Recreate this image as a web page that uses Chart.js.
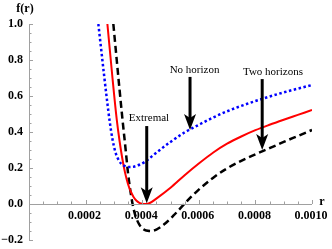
<!DOCTYPE html>
<html>
<head>
<meta charset="utf-8">
<script src="https://cdn.jsdelivr.net/npm/chart.js@4.4.1/dist/chart.umd.min.js"></script>
<style>
  html, body { margin: 0; padding: 0; background: #fff; }
  #wrap { width: 332px; height: 249px; position: relative; }
</style>
</head>
<body>
<div id="wrap"><canvas id="grafico"></canvas></div>
<script>
// Curvas (r, f(r))
const rSinHorizonte = [0.000245, 0.000255, 0.000265, 0.000275, 0.000285, 0.000295, 0.000305, 0.000315, 0.000325, 0.00034, 0.000355, 0.00037, 0.00039, 0.00041, 0.00045, 0.0005, 0.00055, 0.0006, 0.00065, 0.0007, 0.00075, 0.0008, 0.00085, 0.0009, 0.00095, 0.001];
const fSinHorizonte = [1.0, 0.86, 0.72, 0.585, 0.46, 0.36, 0.29, 0.25, 0.225, 0.21, 0.205, 0.207, 0.218, 0.235, 0.285, 0.345, 0.398, 0.44, 0.48, 0.515, 0.545, 0.572, 0.597, 0.62, 0.641, 0.661];

const rExtremal = [0.000277, 0.000295, 0.00031, 0.00032, 0.00033, 0.00034, 0.00035, 0.00036, 0.00037, 0.00038, 0.00039, 0.0004, 0.000412, 0.000425, 0.00045, 0.0005, 0.00055, 0.0006, 0.00065, 0.0007, 0.00075, 0.0008, 0.00085, 0.0009, 0.00095, 0.001];
const fExtremal = [1.0, 0.70, 0.47, 0.35, 0.25, 0.17, 0.11, 0.068, 0.038, 0.018, 0.006, 0.001, 0.0, 0.004, 0.03, 0.09, 0.16, 0.225, 0.285, 0.335, 0.375, 0.41, 0.44, 0.468, 0.495, 0.522];

const rDosHorizontes = [0.000298, 0.00031, 0.00032, 0.00033, 0.00034, 0.00035, 0.00036, 0.00037, 0.00038, 0.00039, 0.0004, 0.00041, 0.00042, 0.00043, 0.00045, 0.00048, 0.00051, 0.00054, 0.00057, 0.0006, 0.00065, 0.0007, 0.00075, 0.0008, 0.00085, 0.0009, 0.00095, 0.001];
const fDosHorizontes = [1.0, 0.80, 0.635, 0.475, 0.325, 0.17, 0.055, -0.03, -0.082, -0.115, -0.135, -0.145, -0.149, -0.15, -0.142, -0.11, -0.065, -0.015, 0.035, 0.08, 0.145, 0.198, 0.24, 0.276, 0.31, 0.345, 0.378, 0.411];

// Marcas de los ejes
const ticksX = [0.0002, 0.0004, 0.0006, 0.0008, 0.001];
const etiquetasX = ["0.0002", "0.0004", "0.0006", "0.0008", "0.0010"];
const ticksY = [-0.2, 0.0, 0.2, 0.4, 0.6, 0.8, 1.0];
const etiquetasY = ["\u22120.2", "0.0", "0.2", "0.4", "0.6", "0.8", "1.0"];

// Flechas y textos (en unidades de datos)
const flechas = [
  { texto: "Extremal", r: 0.000416, desde: 0.433, hasta: 0.004, tr: 0.000424, tf: 0.478 },
  { texto: "No horizon", r: 0.000569, desde: 0.706, hasta: 0.411, tr: 0.000585, tf: 0.744 },
  { texto: "Two horizons", r: 0.000824, desde: 0.694, hasta: 0.30, tr: 0.000862, tf: 0.733 }
];

const puntos = (xs, ys) => xs.map((x, i) => ({ x: x, y: ys[i] }));

const ejesPlugin = {
  id: 'ejes',
  afterDatasetsDraw(chart) {
    const ctx = chart.ctx;
    const sx = chart.scales.x, sy = chart.scales.y;
    const x0 = sx.getPixelForValue(0), y0 = sy.getPixelForValue(0);
    ctx.save();
    ctx.strokeStyle = '#a0a0a0';
    ctx.lineWidth = 1;
    // eje x
    ctx.beginPath();
    ctx.moveTo(x0, y0 + 0.5); ctx.lineTo(sx.getPixelForValue(0.001), y0 + 0.5);
    ctx.stroke();
    // eje y
    ctx.beginPath();
    ctx.moveTo(x0 + 0.5, sy.getPixelForValue(1.0)); ctx.lineTo(x0 + 0.5, sy.getPixelForValue(-0.2));
    ctx.stroke();
    // marcas menores y mayores
    for (let i = 1; i <= 20; i++) {
      const px = Math.round(sx.getPixelForValue(i * 0.00005)) + 0.5;
      const largo = i % 4 === 0 ? 4 : 2.5;
      ctx.beginPath(); ctx.moveTo(px, y0); ctx.lineTo(px, y0 - largo); ctx.stroke();
    }
    for (let i = -4; i <= 20; i++) {
      if (i === 0) continue;
      const py = Math.round(sy.getPixelForValue(i * 0.05)) + 0.5;
      const largo = i % 4 === 0 ? 4 : 2.5;
      ctx.beginPath(); ctx.moveTo(x0, py); ctx.lineTo(x0 + largo, py); ctx.stroke();
    }
    // etiquetas
    ctx.fillStyle = '#000';
    ctx.font = 'bold 12px "Liberation Serif", serif';
    ctx.textAlign = 'center'; ctx.textBaseline = 'top';
    ticksX.forEach((v, i) => ctx.fillText(etiquetasX[i], sx.getPixelForValue(v) - 1, y0 + 6));
    ctx.textAlign = 'right'; ctx.textBaseline = 'middle';
    ticksY.forEach((v, i) => ctx.fillText(etiquetasY[i], x0 - 6, sy.getPixelForValue(v)));
    ctx.textAlign = 'center'; ctx.textBaseline = 'middle';
    ctx.fillText('f(r)', 25, 9);
    ctx.fillText('r', sx.getPixelForValue(0.001) + 10, y0 - 2);
    // flechas
    ctx.font = '11px "Liberation Serif", serif';
    flechas.forEach(f => {
      const px = sx.getPixelForValue(f.r);
      const pa = sy.getPixelForValue(f.desde), pb = sy.getPixelForValue(f.hasta);
      ctx.strokeStyle = '#000'; ctx.lineWidth = 3;
      ctx.beginPath(); ctx.moveTo(px, pa); ctx.lineTo(px, pb - 10); ctx.stroke();
      ctx.fillStyle = '#000';
      ctx.beginPath();
      ctx.moveTo(px, pb);
      ctx.lineTo(px - 6, pb - 16);
      ctx.lineTo(px, pb - 12);
      ctx.lineTo(px + 6, pb - 16);
      ctx.closePath(); ctx.fill();
      ctx.fillText(f.texto, sx.getPixelForValue(f.tr), sy.getPixelForValue(f.tf));
    });
    ctx.restore();
  }
};

new Chart(document.getElementById('grafico'), {
  type: 'line',
  data: {
    datasets: [
      { data: puntos(rSinHorizonte, fSinHorizonte), borderColor: 'rgb(0,0,255)', borderWidth: 2.5, borderDash: [2.5, 2.5], cubicInterpolationMode: 'monotone' },
      { data: puntos(rExtremal, fExtremal), borderColor: 'rgb(255,0,0)', borderWidth: 2, cubicInterpolationMode: 'monotone' },
      { data: puntos(rDosHorizontes, fDosHorizontes), borderColor: '#000', borderWidth: 2.5, borderDash: [7, 4], cubicInterpolationMode: 'monotone' }
    ]
  },
  options: {
    responsive: true,
    maintainAspectRatio: false,
    animation: false,
    layout: { padding: { left: 29, right: 20, top: 24, bottom: 9 } },
    elements: { point: { radius: 0 } },
    plugins: { legend: { display: false }, tooltip: { enabled: false } },
    scales: {
      x: { type: 'linear', min: 0, max: 0.001, display: false },
      y: { type: 'linear', min: -0.2, max: 1.0, display: false }
    }
  },
  plugins: [ejesPlugin]
});
</script>
</body>
</html>
